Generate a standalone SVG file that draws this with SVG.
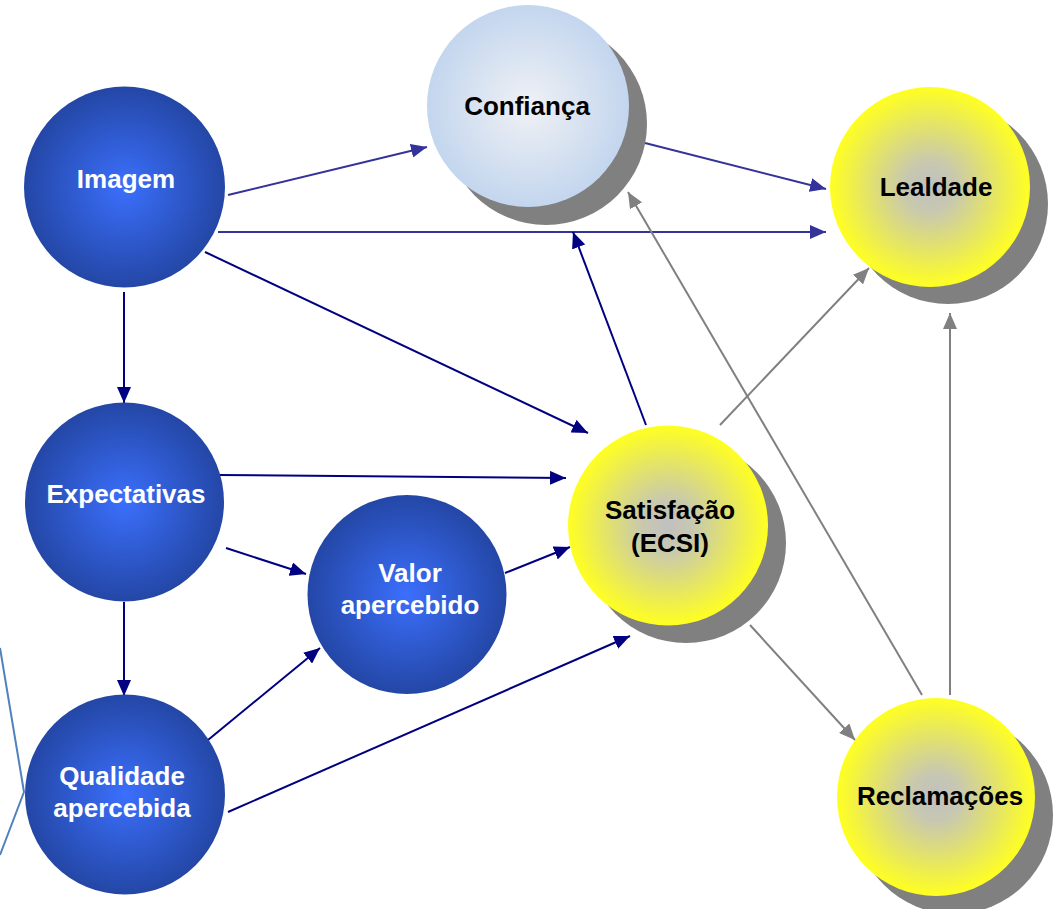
<svg xmlns="http://www.w3.org/2000/svg" width="1057" height="909" viewBox="0 0 1057 909">
<style>
.lbl{font-family:"Liberation Sans",Arial,sans-serif;font-weight:bold;font-size:26px;text-anchor:middle}
.w{fill:#ffffff}.k{fill:#000000}
.sh{fill:#808080}
.c1{stroke:#333399;stroke-width:2;fill:none;marker-end:url(#a1)}
.c2{stroke:#000080;stroke-width:2;fill:none;marker-end:url(#a2)}
.c3{stroke:#808080;stroke-width:2;fill:none;marker-end:url(#a3)}
</style>
<defs>
<radialGradient id="gb" cx="0.5" cy="0.5" r="0.5"><stop offset="0" stop-color="#3b6ffc"/><stop offset="1" stop-color="#2447a6"/></radialGradient>
<radialGradient id="gl" cx="0.5" cy="0.5" r="0.5"><stop offset="0" stop-color="#f0f1f5"/><stop offset="1" stop-color="#c3d6ee"/></radialGradient>
<radialGradient id="gy" cx="0.5" cy="0.5" r="0.5"><stop offset="0" stop-color="#c0c0c0"/><stop offset="0.25" stop-color="#c8c8b0"/><stop offset="1" stop-color="#ffff22"/></radialGradient>
<marker id="a1" markerUnits="userSpaceOnUse" markerWidth="18" markerHeight="14" refX="16" refY="7" orient="auto"><path d="M0,0L16,7L0,14z" fill="#333399"/></marker>
<marker id="a2" markerUnits="userSpaceOnUse" markerWidth="18" markerHeight="14" refX="16" refY="7" orient="auto"><path d="M0,0L16,7L0,14z" fill="#000080"/></marker>
<marker id="a3" markerUnits="userSpaceOnUse" markerWidth="18" markerHeight="14" refX="16" refY="7" orient="auto"><path d="M0,0L16,7L0,14z" fill="#808080"/></marker>
</defs>
<rect width="1057" height="909" fill="#ffffff"/>
<polyline points="0,648 24,792 0,855" fill="none" stroke="#4f81bd" stroke-width="2"/>
<g id="connectors">
<line class="c1" x1="228" y1="195" x2="427" y2="147"/>
<line class="c1" x1="645" y1="143" x2="826" y2="189"/>
<line class="c1" x1="218" y1="232" x2="826" y2="232"/>
<line class="c2" x1="205" y1="252" x2="588" y2="433"/>
<line class="c2" x1="124" y1="292" x2="124" y2="403"/>
<line class="c2" x1="218" y1="475" x2="566" y2="478"/>
<line class="c2" x1="226" y1="548" x2="306" y2="574"/>
<line class="c2" x1="124" y1="602" x2="124" y2="696"/>
<line class="c2" x1="505" y1="573" x2="570" y2="547"/>
<line class="c2" x1="208" y1="740" x2="320" y2="648"/>
<line class="c2" x1="228" y1="812" x2="630" y2="636"/>
<line class="c2" x1="646" y1="425" x2="573" y2="232"/>
<line class="c3" x1="720" y1="425" x2="869" y2="268"/>
<line class="c3" x1="750" y1="625" x2="855" y2="740"/>
<line class="c3" x1="950" y1="695" x2="950" y2="313"/>
<line class="c3" x1="922" y1="695" x2="628" y2="192"/>
</g>
<g id="imagem"><circle cx="124.5" cy="187" r="100.5" fill="url(#gb)"/><text class="lbl w" x="126" y="188">Imagem</text></g>
<g id="expectativas"><circle cx="124.5" cy="502" r="99.5" fill="url(#gb)"/><text class="lbl w" x="126" y="503">Expectativas</text></g>
<g id="qualidade"><circle cx="125" cy="794.5" r="100" fill="url(#gb)"/><text class="lbl w" x="122" y="785">Qualidade</text><text class="lbl w" x="122" y="817">apercebida</text></g>
<g id="valor"><circle cx="407" cy="594.5" r="99.5" fill="url(#gb)"/><text class="lbl w" x="410" y="582">Valor</text><text class="lbl w" x="410" y="614">apercebido</text></g>
<g id="confianca"><circle class="sh" cx="546" cy="124" r="101"/><circle cx="528" cy="106" r="101" fill="url(#gl)"/><text class="lbl k" x="527" y="115">Confiança</text></g>
<g id="lealdade"><circle class="sh" cx="948" cy="204" r="100"/><circle cx="930" cy="187" r="100" fill="url(#gy)"/><text class="lbl k" x="936" y="196">Lealdade</text></g>
<g id="satisfacao"><circle class="sh" cx="686" cy="543" r="100"/><circle cx="668" cy="525.5" r="100" fill="url(#gy)"/><text class="lbl k" x="670" y="519">Satisfação</text><text class="lbl k" x="670" y="552">(ECSI)</text></g>
<g id="reclamacoes"><circle class="sh" cx="954" cy="815" r="99"/><circle cx="936" cy="797" r="99" fill="url(#gy)"/><text class="lbl k" x="940" y="805">Reclamações</text></g>
</svg>
